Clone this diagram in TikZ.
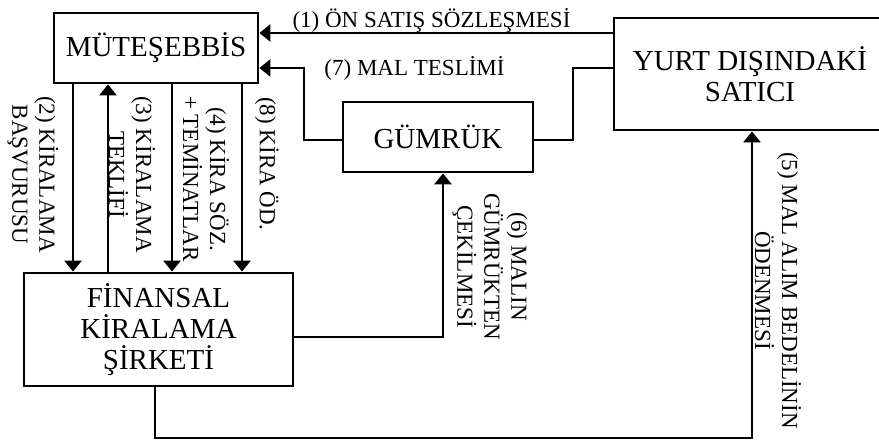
\documentclass[tikz,border=0pt]{standalone}
\usepackage{fontspec}
\setmainfont{Liberation Serif}
\usetikzlibrary{arrows.meta}
\begin{document}
\begin{tikzpicture}[x=1pt,y=-1pt,
  box/.style={draw,line width=2.8pt,inner sep=0pt,align=center,
    font=\fontsize{29}{31}\selectfont},
  lbl/.style={inner sep=0pt,align=center,font=\fontsize{23}{27}\selectfont},
  vlbl/.style={lbl,rotate=-90,anchor=west},
  wire/.style={line width=2.8pt},
  arr/.style={wire,-{Triangle[length=11pt,width=17pt]}}]
\useasboundingbox (0,0) rectangle (879,443);

% parties
\node[box,minimum width=204pt,minimum height=70pt] (mut) at (156,48) {MÜTEŞEBBİS};
\node[box,minimum width=272pt,minimum height=112pt] (yurt) at (750,74) {YURT DIŞINDAKİ\\SATICI};
\node[box,minimum width=190pt,minimum height=70pt] (gum) at (438,137) {GÜMRÜK};
\node[box,minimum width=269pt,minimum height=113pt] (fin) at (158.5,329.5) {FİNANSAL\\KİRALAMA\\ŞİRKETİ};

% levels and bends of the connectors
\coordinate (r1) at (0,33);
\coordinate (r7) at (0,68);
\coordinate (g7) at (0,140);
\coordinate (b7a) at (573,68);
\coordinate (b7b) at (573,140);
\coordinate (c7a) at (304,140);
\coordinate (c7b) at (304,68);
\coordinate (v2) at (73,0);
\coordinate (v3) at (108,0);
\coordinate (v4) at (172,0);
\coordinate (v8) at (242,0);
\coordinate (r6) at (0,337);
\coordinate (b6) at (443,337);
\coordinate (v6) at (443,0);
\coordinate (b5a) at (155,438);
\coordinate (b5b) at (752,438);

% (1) pre-sale contract
\draw[arr] (yurt.west |- r1) -- (mut.east |- r1);
\node[lbl,anchor=base] (l1) at (431.5,28) {(1) ÖN SATIŞ SÖZLEŞMESİ};

% (7) delivery of goods through customs
\draw[wire] (yurt.west |- r7) -- (b7a) -- (b7b) -- (gum.east |- g7);
\draw[arr] (gum.west |- g7) -- (c7a) -- (c7b) -- (mut.east |- r7);
\node[lbl,anchor=base] (l7) at (414.5,76) {(7) MAL TESLİMİ};

% leasing steps between entrepreneur and leasing company
\draw[arr] (mut.south -| v2) -- (fin.north -| v2);
\draw[arr] (fin.north -| v3) -- (mut.south -| v3);
\draw[arr] (mut.south -| v4) -- (fin.north -| v4);
\draw[arr] (mut.south -| v8) -- (fin.north -| v8);
\node[vlbl] (l2) at (33,96) {(2) KİRALAMA\\BAŞVURUSU};
\node[vlbl] (l3) at (132,96) {(3) KİRALAMA\\TEKLİFİ};
\node[vlbl] (l4) at (206,96) {(4) KİRA SÖZ.\\+ TEMİNATLAR};
\node[vlbl] (l8) at (267,97) {(8) KİRA ÖD.};

% (6) customs clearance
\draw[arr] (fin.east |- r6) -- (b6) -- (gum.south -| v6);
\node[vlbl] (l6) at (490,193) {(6) MALIN\\GÜMRÜKTEN\\ÇEKİLMESİ};

% (5) payment of the purchase price
\draw[arr] (fin.south -| b5a) -- (b5a) -- (b5b) -- (yurt.south -| b5b);
\node[vlbl] (l5) at (778,152) {(5) MAL ALIM BEDELİNİN\\ÖDENMESİ};
\end{tikzpicture}
\end{document}
